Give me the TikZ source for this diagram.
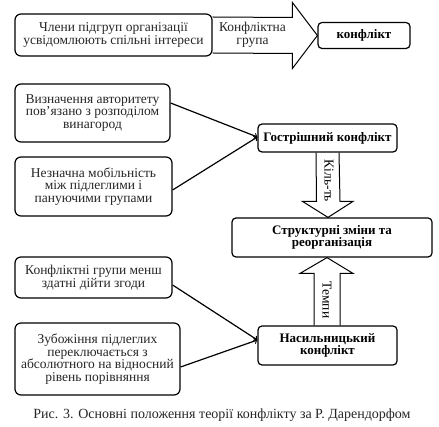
\documentclass[tikz,border=0pt]{standalone}
\usepackage{fontspec}
\setmainfont{Liberation Serif}
\usetikzlibrary{arrows,shapes,calc,positioning}

\begin{document}
\begin{tikzpicture}[x=1pt,y=-1pt]
	\tikzstyle{every node}=[font=\fontsize{13.5}{12.6}\selectfont]
	\tikzstyle{cause}=[draw, line width=1.2pt, rounded corners=6pt, align=center, inner sep=0pt, text=black!85]
	\tikzstyle{result}=[draw, line width=1.2pt, rounded corners=4pt, align=center, inner sep=0pt, font=\fontsize{13}{12.6}\selectfont\bfseries]
	\tikzstyle{link}=[line width=1.2pt, ->]
	\tikzstyle{block}=[line width=1pt]
	\useasboundingbox (0,0) rectangle (439,427);
	% top row
	\node [cause, minimum width=197pt, minimum height=42pt] (members) at (113.5,35) {Члени підгруп організації\\усвідомлюють спільні інтереси};
	\node [result, minimum width=92pt, minimum height=26pt] (conflict) at (364,35.5) {конфлікт};
	\draw [block] ($(members.east)+(0,-18)$) -- ($(conflict.west)+(-25,-18)$) -- ($(conflict.west)+(-25,-33)$) -- (conflict.west) -- ($(conflict.west)+(-25,33)$) -- ($(conflict.west)+(-25,18)$) -- ($(members.east)+(0,18)$);
	\node [align=center, text=black!85] (group) at (252.5,35) {Конфліктна\\група};
	% causes of sharper conflict
	\node [cause, minimum width=155pt, minimum height=58pt] (authority) at (92.5,113) {Визначення авторитету\\пов'язано з розподілом\\винагород};
	\node [cause, minimum width=157pt, minimum height=59pt] (mobility) at (93.5,186.5) {Незначна мобільність\\між підлеглими і\\пануючими групами};
	\node [result, minimum width=139pt, minimum height=28pt] (sharp) at (327.5,138) {Гострішний конфлікт};
	\draw [link] ([yshift=10pt]authority.east) -- ([yshift=1pt]sharp.west);
	\draw [link] ([yshift=-3.5pt]mobility.east) -- ([yshift=1pt]sharp.west);
	% structural change
	\node [result, minimum width=200pt, minimum height=39pt] (change) at (332,237.5) {Структурні зміни та\\реорганізація};
	\draw [block] ($(sharp.south)+(-11.5,0)$) -- ($(change.north)+(-15.5,-16)$) -- ($(change.north)+(-29.5,-16)$) -- ($(change.north)+(-4,0)$) -- ($(change.north)+(21,-16)$) -- ($(change.north)+(8,-16)$) -- ($(sharp.south)+(11.5,0)$);
	\node [rotate=-90] (amount) at (329,181) {Кіль-ть};
	% causes of violent conflict
	\node [cause, minimum width=157pt, minimum height=41pt] (agree) at (93.5,277.5) {Конфліктні групи менш\\здатні дійти згоди};
	\node [cause, minimum width=165pt, minimum height=72pt] (poverty) at (97.5,359) {Зубожіння підлеглих\\переключається з\\абсолютного на відносний\\рівень порівняння};
	\node [result, minimum width=139pt, minimum height=39pt] (violent) at (327.5,345.5) {Насильницький\\конфлікт};
	\draw [link] ([yshift=-7.5pt]agree.east) -- ([yshift=5.5pt]violent.west);
	\draw [link] ([yshift=-8pt]poverty.east) -- ([yshift=5.5pt]violent.west);
	\draw [block] ($(violent.north)+(-13.5,0)$) -- ($(violent.north)+(-13.5,-52)$) -- ($(violent.north)+(-27.5,-52)$) -- ($(change.south)+(-5,0)$) -- ($(violent.north)+(25.5,-52)$) -- ($(violent.north)+(12.5,-52)$) -- ($(violent.north)+(12.5,0)$);
	\node [rotate=-90] (pace) at (327,300) {Темпи};
	% caption
	\node [text=black!85, font=\fontsize{14}{16}\selectfont] (caption) at (222,415) {Рис. 3. Основні положення теорії конфлікту за Р. Дарендорфом};
\end{tikzpicture}
\end{document}
